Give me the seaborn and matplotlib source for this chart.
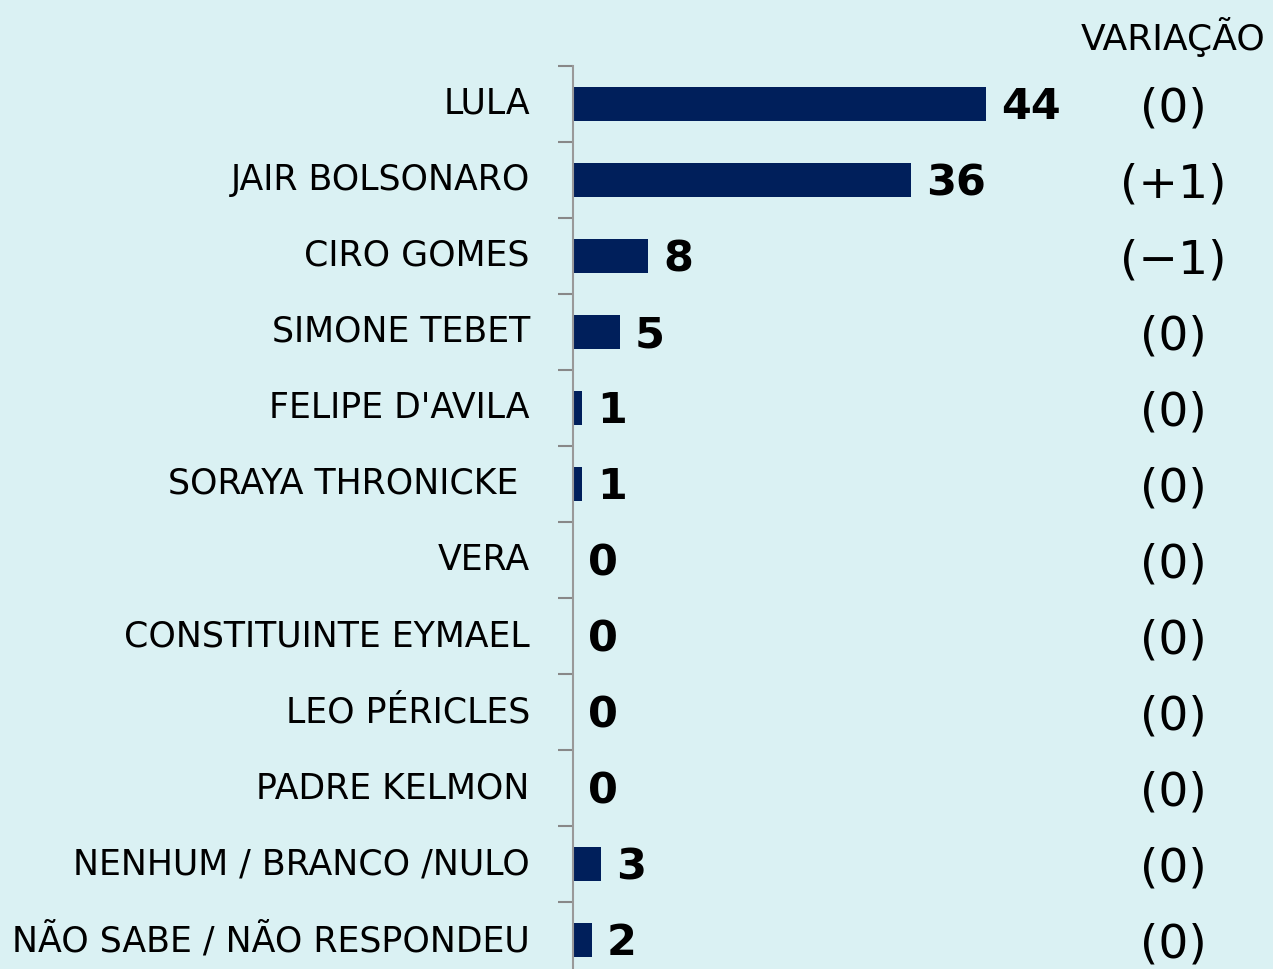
import pandas as pd
import numpy as np
import matplotlib
matplotlib.use('Agg')
import matplotlib.pyplot as plt
import matplotlib.transforms as mtransforms
import seaborn as sns

# dados
candidatos = ['LULA', 'JAIR BOLSONARO', 'CIRO GOMES', 'SIMONE TEBET', "FELIPE D'AVILA",
              'SORAYA THRONICKE ', 'VERA', 'CONSTITUINTE EYMAEL', 'LEO PÉRICLES',
              'PADRE KELMON', 'NENHUM / BRANCO /NULO', 'NÃO SABE / NÃO RESPONDEU']
votos = [44, 36, 8, 5, 1, 1, 0, 0, 0, 0, 3, 2]
variacao = ['(0)', '(+1)', '(−1)', '(0)', '(0)', '(0)', '(0)', '(0)', '(0)', '(0)', '(0)', '(0)']

df = pd.DataFrame({'candidato': candidatos, 'votos': votos})

bg = '#DAF1F3'
navy = '#001F5B'

sns.set_style('white', {'axes.facecolor': bg, 'figure.facecolor': bg})
plt.rcParams['font.family'] = ['DejaVu Sans']

fig = plt.figure(figsize=(12.73, 9.69), dpi=100)
ax = fig.add_axes([0.450, -0.0093, 0.550, 0.9412])

sns.barplot(data=df, x='votos', y='candidato', orient='h', color=navy,
            width=0.45, saturation=1, linewidth=0, ax=ax)

ax.set_xlim(0, 74.5)
ax.set_ylim(len(candidatos) - 0.5, -0.5)
ax.set_xlabel('')
ax.set_ylabel('')
ax.set_xticks([])

for s in ['top', 'right', 'bottom']:
    ax.spines[s].set_visible(False)
ax.spines['left'].set_color('#999999')
ax.spines['left'].set_linewidth(1.5)

# rótulos das categorias e marcas entre elas
ax.tick_params(axis='y', which='major', left=True, length=0, pad=31, labelsize=25,
               labelcolor='black')
ax.set_yticks(np.arange(-0.5, len(candidatos), 1), minor=True)
ax.tick_params(axis='y', which='minor', left=True, length=11, width=1.5,
               color='#888888', direction='out')
for lbl in ax.get_yticklabels():
    lbl.set_verticalalignment('center')

# valores
for i, v in enumerate(votos):
    ax.text(v + 1.6, i + 0.04, str(v), va='center', ha='left', fontsize=31,
            fontweight='heavy', color='black')

# coluna de variação
trans = mtransforms.blended_transform_factory(fig.transFigure, ax.transData)
for i, t in enumerate(variacao):
    ax.text(0.9215, i + 0.06, t, transform=trans, ha='center', va='center',
            fontsize=34, color='black')
fig.text(0.9215, 0.962, 'VARIAÇÃO', ha='center', va='center', fontsize=26, color='black')

fig.savefig('out.png', dpi=100, facecolor=bg)
